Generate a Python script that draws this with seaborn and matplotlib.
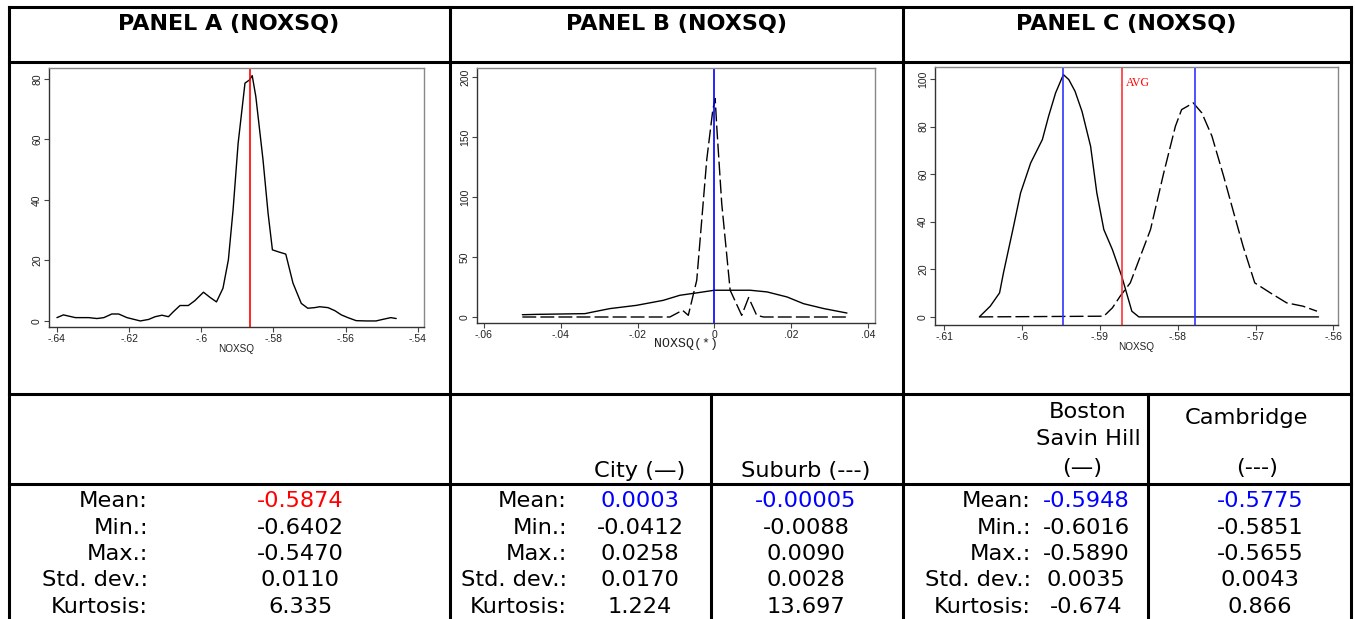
import pandas as pd
import matplotlib
matplotlib.use("Agg")
import matplotlib.pyplot as plt
import seaborn as sns
from matplotlib.lines import Line2D
from matplotlib.ticker import FixedLocator

sns.set_theme(style="white")
plt.rcParams["font.family"] = ["DejaVu Sans"]
plt.rcParams["text.color"] = "black"
plt.rcParams["axes.labelcolor"] = "black"
plt.rcParams["xtick.color"] = "black"
plt.rcParams["ytick.color"] = "black"

# =========================
# DATA
# =========================

# Panel A - pooled NOXSQ density
a_x = [-0.6400, -0.6382, -0.6349, -0.6312, -0.6289, -0.6270, -0.6248, -0.6229,
       -0.6206, -0.6169, -0.6146, -0.6128, -0.6109, -0.6091, -0.6077, -0.6059,
       -0.6036, -0.6018, -0.5994, -0.5976, -0.5958, -0.5940, -0.5925, -0.5912,
       -0.5898, -0.5879, -0.5866, -0.5859, -0.5849, -0.5829, -0.5815, -0.5803,
       -0.5788, -0.5766, -0.5746, -0.5723, -0.5705, -0.5686, -0.5672, -0.5649,
       -0.5630, -0.5612, -0.5594, -0.5571, -0.5543, -0.5516, -0.5498, -0.5475,
       -0.5460]
a_y = [1.1, 2.0, 1.1, 1.1, 0.8, 1.1, 2.3, 2.3,
       1.1, 0.0, 0.5, 1.4, 1.9, 1.4, 3.1, 5.1,
       5.1, 6.7, 9.5, 7.8, 6.3, 10.8, 20.2, 36.7,
       58.7, 78.6, 79.7, 81.1, 74.2, 53.2, 35.6, 23.5,
       22.9, 22.1, 12.5, 5.8, 4.2, 4.4, 4.7, 4.4,
       3.4, 2.0, 1.1, 0.1, 0.0, 0.0, 0.5, 1.1,
       0.8]
a_mean_line = -0.5866

# Panel B - City (solid) and Suburb (dashed)
b_city_x = [-0.0500, -0.0463, -0.0337, -0.0316, -0.0272, -0.0203, -0.0133, -0.0090,
            -0.0046, 0.0000, 0.0041, 0.0093, 0.0137, 0.0189, 0.0232, 0.0285, 0.0345]
b_city_y = [1.9, 2.2, 2.8, 4.2, 7.0, 9.7, 13.9, 18.1,
            20.1, 22.3, 22.3, 22.3, 20.9, 16.7, 11.1, 7.0, 3.3]
b_sub_x = [-0.0500, -0.0116, -0.0083, -0.0068, -0.0046, -0.0020, -0.0004, 0.0002,
           0.0006, 0.0019, 0.0041, 0.0071, 0.0089, 0.0110, 0.0128, 0.0345]
b_sub_y = [0.0, 0.0, 5.6, 1.4, 30.6, 131.0, 173.0, 182.0,
           159.0, 94.7, 22.3, 1.4, 16.2, 1.4, 0.0, 0.0]
b_mean_line = 0.0

# Panel C - Boston Savin Hill (solid) and Cambridge (dashed)
c_bos_x = [-0.6055, -0.6041, -0.6029, -0.6024, -0.6011, -0.6002, -0.5989, -0.5974,
           -0.5966, -0.5957, -0.5947, -0.5940, -0.5932, -0.5923, -0.5912, -0.5904,
           -0.5895, -0.5884, -0.5872, -0.5859, -0.5850, -0.5619]
c_bos_y = [0.0, 4.5, 10.1, 18.5, 38.1, 52.1, 64.7, 74.5,
           84.3, 94.1, 101.8, 99.7, 94.8, 86.3, 71.7, 52.1,
           36.7, 28.3, 17.1, 2.4, 0.0, 0.0]
c_cam_x = [-0.6055, -0.5895, -0.5884, -0.5874, -0.5861, -0.5848, -0.5835, -0.5818,
           -0.5803, -0.5795, -0.5780, -0.5769, -0.5756, -0.5741, -0.5728, -0.5716,
           -0.5701, -0.5681, -0.5660, -0.5639, -0.5621]
c_cam_y = [0.0, 0.3, 3.8, 8.7, 14.3, 25.5, 36.7, 60.5,
           80.1, 87.1, 89.9, 85.7, 75.9, 59.1, 43.7, 29.7,
           14.3, 10.1, 5.9, 4.5, 2.4]
c_mean_lines = [-0.5947, -0.5778]
c_avg_line = -0.5871

# Tick labels
a_xticks = [-0.64, -0.62, -0.60, -0.58, -0.56, -0.54]
a_xlabels = ["-.64", "-.62", "-.6", "-.58", "-.56", "-.54"]
a_yticks = [0, 20, 40, 60, 80]
b_xticks = [-0.06, -0.04, -0.02, 0.0, 0.02, 0.04]
b_xlabels = ["-.06", "-.04", "-.02", "0", ".02", ".04"]
b_yticks = [0, 50, 100, 150, 200]
c_xticks = [-0.61, -0.60, -0.59, -0.58, -0.57, -0.56]
c_xlabels = ["-.61", "-.6", "-.59", "-.58", "-.57", "-.56"]
c_yticks = [0, 20, 40, 60, 80, 100]

# Table text
panel_titles = ["PANEL A (NOXSQ)", "PANEL B (NOXSQ)", "PANEL C (NOXSQ)"]
stat_names = ["Mean:", "Min.:", "Max.:", "Std. dev.:", "Kurtosis:"]
a_stats = ["-0.5874", "-0.6402", "-0.5470", "0.0110", "6.335"]
b_city_stats = ["0.0003", "-0.0412", "0.0258", "0.0170", "1.224"]
b_sub_stats = ["-0.00005", "-0.0088", "0.0090", "0.0028", "13.697"]
c_bos_stats = ["-0.5948", "-0.6016", "-0.5890", "0.0035", "-0.674"]
c_cam_stats = ["-0.5775", "-0.5851", "-0.5655", "0.0043", "0.866"]

# =========================
# LAYOUT (pixels)
# =========================
W, H = 1355, 619


def fx(x):
    return x / W


def fy(y):
    return 1 - y / H


fig = plt.figure(figsize=(W / 100, H / 100), dpi=100)
fig.patch.set_facecolor("white")

# table grid
lw = 2.2
hlines = [(7, 9, 1351), (62, 9, 1351), (394, 9, 1351), (484, 9, 1351)]
vlines = [(9, 7, 619), (450, 7, 619), (903, 7, 619), (1351, 7, 619),
          (711, 394, 619), (1148, 394, 619)]
for y, x0, x1 in hlines:
    fig.add_artist(Line2D([fx(x0), fx(x1)], [fy(y), fy(y)], color="black", lw=lw,
                          transform=fig.transFigure, solid_capstyle="projecting"))
for x, y0, y1 in vlines:
    fig.add_artist(Line2D([fx(x), fx(x)], [fy(y0), fy(y1)], color="black", lw=lw,
                          transform=fig.transFigure, solid_capstyle="projecting"))

for title, cx in zip(panel_titles, [229, 676, 1126]):
    fig.text(fx(cx), fy(30), title, ha="center", va="baseline",
             fontsize=16, fontweight="bold", color="black")


# =========================
# PLOTS
# =========================
def style_axes(ax, xlim, ylim, xticks, xlabels, yticks, xlabel, xfont=None):
    ax.set_xlim(*xlim)
    ax.set_ylim(*ylim)
    ax.xaxis.set_major_locator(FixedLocator(xticks))
    ax.set_xticklabels(xlabels)
    ax.yaxis.set_major_locator(FixedLocator(yticks))
    ax.set_yticklabels([str(t) for t in yticks], rotation=90, va="center")
    ax.tick_params(axis="both", which="both", direction="out", length=3.5, width=0.8,
                   color="#444444", labelsize=7.5, pad=1.5, bottom=True, left=True,
                   labelcolor="#222222")
    for lab in ax.get_xticklabels() + ax.get_yticklabels():
        lab.set_fontfamily("Liberation Sans")
    for side in ["left", "bottom"]:
        ax.spines[side].set_color("#333333")
        ax.spines[side].set_linewidth(1.0)
    for side in ["top", "right"]:
        ax.spines[side].set_color("#888888")
        ax.spines[side].set_linewidth(1.0)
    if xfont is None:
        ax.set_xlabel(xlabel, fontsize=7.2, fontfamily="Liberation Sans", labelpad=0,
                      color="#222222")
    else:
        ax.set_xlabel(xlabel, fontsize=9.5, fontfamily=xfont, labelpad=0,
                      color="#222222")
        ax.xaxis.set_label_coords(0.525, -0.06)
    ax.set_ylabel("")
    ax.grid(False)


def add_axes(x0, x1, y0, y1):
    return fig.add_axes([fx(x0), fy(y1), (x1 - x0) / W, (y1 - y0) / H])


# Panel A
axA = add_axes(49, 424, 68, 327)
dfA = pd.DataFrame({"x": a_x, "y": a_y})
sns.lineplot(data=dfA, x="x", y="y", ax=axA, color="black", lw=1.0, sort=False,
             estimator=None)
axA.axvline(a_mean_line, color="#ff0000", lw=1.2)
style_axes(axA, (-0.6422, -0.5383), (-2.0, 83.6), a_xticks, a_xlabels, a_yticks, "NOXSQ")

# Panel B
axB = add_axes(477, 875, 68, 323)
dfB = pd.concat([
    pd.DataFrame({"x": b_city_x, "y": b_city_y, "group": "City"}),
    pd.DataFrame({"x": b_sub_x, "y": b_sub_y, "group": "Suburb"}),
])
sns.lineplot(data=dfB, x="x", y="y", style="group", ax=axB, color="black", lw=1.0,
             sort=False, estimator=None, dashes={"City": "", "Suburb": (10, 3)},
             legend=False)
axB.axvline(b_mean_line, color="#0000ff", lw=1.2)
style_axes(axB, (-0.0618, 0.0418), (-5, 207.5), b_xticks, b_xlabels, b_yticks,
           "NOXSQ(*)", xfont="Liberation Mono")

# Panel C
axC = add_axes(935, 1338, 67, 325)
dfC = pd.concat([
    pd.DataFrame({"x": c_bos_x, "y": c_bos_y, "group": "Boston"}),
    pd.DataFrame({"x": c_cam_x, "y": c_cam_y, "group": "Cambridge"}),
])
sns.lineplot(data=dfC, x="x", y="y", style="group", ax=axC, color="black", lw=1.0,
             sort=False, estimator=None, dashes={"Boston": "", "Cambridge": (10, 3)},
             legend=False)
for m in c_mean_lines:
    axC.axvline(m, color="#3333ff", lw=1.2)
axC.axvline(c_avg_line, color="#ff3333", lw=1.2)
axC.text(c_avg_line + 0.0005, 97, "AVG", color="#ff0000", fontsize=8.5,
         fontfamily="Liberation Serif", ha="left", va="baseline")
style_axes(axC, (-0.6112, -0.5594), (-3.4, 105), c_xticks, c_xlabels, c_yticks, "NOXSQ")

# =========================
# STATISTICS TABLE
# =========================
fs = 16.2
row_base = [507, 533.5, 560, 586.5, 613]

# column headers
fig.text(fx(640), fy(477), "City (—)", ha="center", va="baseline", fontsize=fs)
fig.text(fx(806), fy(477), "Suburb (---)", ha="center", va="baseline", fontsize=fs)
fig.text(fx(1088), fy(418), "Boston", ha="center", va="baseline", fontsize=fs)
fig.text(fx(1088), fy(445), "Savin Hill", ha="center", va="baseline", fontsize=fs)
fig.text(fx(1082), fy(474), "(—)", ha="center", va="baseline", fontsize=fs)
fig.text(fx(1246), fy(424), "Cambridge", ha="center", va="baseline", fontsize=fs)
fig.text(fx(1257), fy(474), "(---)", ha="center", va="baseline", fontsize=fs)

label_right = [148, 567, 1031]
value_cols = [
    [(300, a_stats, "#ff0000")],
    [(640, b_city_stats, "#0000ff"), (806, b_sub_stats, "#0000ff")],
    [(1086, c_bos_stats, "#0000ff"), (1260, c_cam_stats, "#0000ff")],
]
for lx, cols in zip(label_right, value_cols):
    for i, name in enumerate(stat_names):
        fig.text(fx(lx), fy(row_base[i]), name, ha="right", va="baseline", fontsize=fs)
    for cx, vals, mean_color in cols:
        for i, v in enumerate(vals):
            fig.text(fx(cx), fy(row_base[i]), v, ha="center", va="baseline",
                     fontsize=fs, color=mean_color if i == 0 else "black")

plt.savefig("out.png", dpi=100)
plt.close()
